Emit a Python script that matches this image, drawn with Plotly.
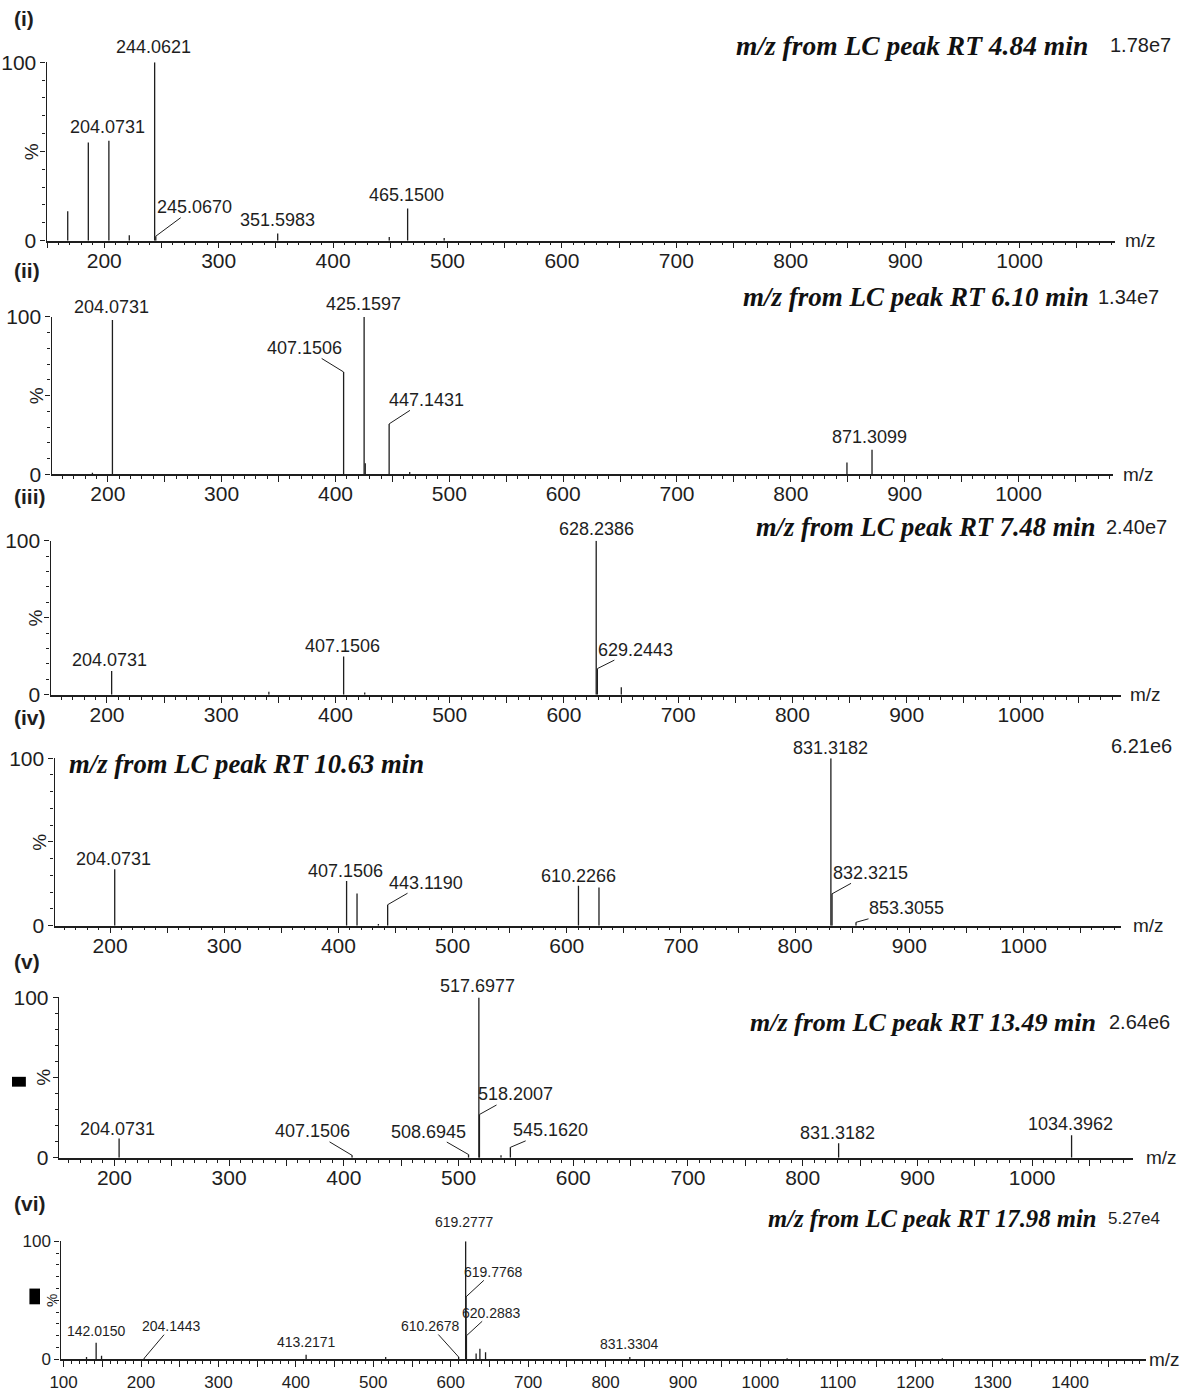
import plotly.graph_objects as go

W, H = 1182, 1393

# ---- spectra: m/z and relative intensity (%) ----
mz_i = [168.1, 186.1, 204.0731, 221.9, 244.0621, 245.0670, 351.5983, 449.1, 465.1500, 497.1]
rel_i = [16.5, 55.0, 56.0, 3.0, 100.0, 2.5, 4.0, 2.0, 18.0, 1.5]
lab_i = [204.0731, 244.0621, 245.0670, 351.5983, 465.1500]

mz_ii = [186.5, 204.0731, 407.1506, 425.1597, 426.16, 447.1431, 465.2, 849.3, 871.3099]
rel_ii = [1.0, 98.0, 65.0, 100.0, 7.0, 32.0, 1.5, 7.5, 15.5]
lab_ii = [204.0731, 407.1506, 425.1597, 447.1431, 871.3099]

mz_iii = [204.0731, 341.7, 407.1506, 425.6, 628.2386, 629.2443, 650.2]
rel_iii = [15.4, 2.0, 24.8, 1.5, 100.0, 17.0, 5.0]
lab_iii = [204.0731, 407.1506, 628.2386, 629.2443]

mz_iv = [204.0731, 407.1506, 416.3, 435.0, 443.1190, 610.2266, 628.2, 831.3182, 832.3215, 853.3055]
rel_iv = [33.7, 26.7, 19.2, 1.0, 12.5, 23.8, 22.8, 100.0, 19.0, 2.0]
lab_iv = [204.0731, 407.1506, 443.1190, 610.2266, 831.3182, 832.3215, 853.3055]

mz_v = [204.0731, 407.1506, 508.6945, 517.6977, 518.2007, 537.0, 545.1620, 831.3182, 1034.3962]
rel_v = [12.0, 1.5, 2.0, 100.0, 27.0, 1.5, 6.5, 9.0, 14.0]
lab_v = [204.0731, 407.1506, 508.6945, 517.6977, 518.2007, 545.1620, 831.3182, 1034.3962]

mz_vi = [129.6, 142.0150, 149.0, 204.1443, 413.2171, 516.0, 610.2678, 619.2777, 619.7768,
         620.2883, 632.8, 637.7, 645.0, 831.3304, 1034.5, 1235.0]
rel_vi = [2.0, 14.0, 3.0, 1.0, 4.0, 2.0, 2.0, 100.0, 53.0, 20.0, 5.0, 9.0, 6.0, 2.0, 1.0, 1.0]
lab_vi = [142.0150, 204.1443, 413.2171, 610.2678, 619.2777, 619.7768, 620.2883, 831.3304]

panel_names = ["(i)", "(ii)", "(iii)", "(iv)", "(v)", "(vi)"]
rt_min = ["4.84", "6.10", "7.48", "10.63", "13.49", "17.98"]
base_int = ["1.78e7", "1.34e7", "2.40e7", "6.21e6", "2.64e6", "5.27e4"]

spectra = [(mz_i, rel_i, lab_i), (mz_ii, rel_ii, lab_ii), (mz_iii, rel_iii, lab_iii),
           (mz_iv, rel_iv, lab_iv), (mz_v, rel_v, lab_v), (mz_vi, rel_vi, lab_vi)]

# ---- layout geometry (pixels) ----
# xl/xr: axis extent, (xp, mref, k): pixel of reference m/z and px per m/z unit
geom = [
    dict(xl=36, xr=1114, xp=94.1, mref=200, k=1.155, y100=51, y0=232.5),
    dict(xl=41, xr=1112, xp=97.7, mref=200, k=1.1491, y100=310, y0=470),
    dict(xl=40, xr=1120, xp=96.9, mref=200, k=1.1531, y100=537.5, y0=694.3),
    dict(xl=44, xr=1120, xp=100.0, mref=200, k=1.1525, y100=758.7, y0=929),
    dict(xl=48.4, xr=1133, xp=104.4, mref=200, k=1.1579, y100=1002, y0=1165),
    dict(xl=50, xr=1146, xp=53.1, mref=100, k=0.7815, y100=1250, y0=1370),
]

# label offsets from the peak top: (dx, dy, leader line)
label_style = [
    {204.0731: (-1, -14, False), 244.0621: (-1, -15, False), 245.0670: (39, -29, True),
     351.5983: (0, -14, False), 465.1500: (-1, -14, False)},
    {204.0731: (-1, -13, False), 425.1597: (-1, -13, False), 407.1506: (-39, -24, True),
     447.1431: (37, -24, True), 871.3099: (-3, -13, False)},
    {204.0731: (-2, -11, False), 407.1506: (-1, -11, False), 628.2386: (0, -12, False),
     629.2443: (38, -19, True)},
    {204.0731: (-1, -10, False), 407.1506: (-1, -10, False), 443.1190: (38, -22, True),
     610.2266: (0, -10, False), 831.3182: (0, -10, False), 832.3215: (38, -21, True),
     853.3055: (50, -14, True)},
    {204.0731: (-2, -10, False), 407.1506: (-40, -24, True), 508.6945: (-40, -23, True),
     517.6977: (-1, -11, False), 518.2007: (36, -20, True), 545.1620: (40, -17, True),
     831.3182: (-1, -10, False), 1034.3962: (-1, -11, False)},
    {142.0150: (0, -12, False), 204.1443: (27, -32, True), 413.2171: (0, -13, False),
     610.2678: (-28, -31, True), 619.2777: (-1, -19, False), 619.7768: (27, -25, True),
     620.2883: (25, -23, True), 831.3304: (0, -13, False)},
]

# text placements (pixels)
panel_label_pos = [(1, 7), (1, 263), (1, 493), (1, 717), (1, 965), (1, 1212)]
title_pos = [(1089, 34, "right"), (1090, 290, "right"), (1096, 523.7, "right"),
             (56.7, 765, "left"), (1097, 1027, "right"), (1098.6, 1227, "right")]
title_size = [27.5, 27, 26.5, 26.7, 26, 24.7]
base_pos = [(1107.7, 34), (1095, 290), (1103.6, 523.7), (1108, 746), (1106.6, 1027), (1105.6, 1227)]
mz_label_x = [1140, 1138, 1145, 1148, 1161, 1164]
pct_gap = [15, 15, 15, 15, 15, 9]
squares = [(1, 1082.7, 15, 1092.7), (18.6, 1298, 29.3, 1314)]

SANS = "Liberation Sans, Arial, sans-serif"
SERIF = "Liberation Serif, Times New Roman, serif"
INK = "#1e1e1e"


def px(x):
    return x / W


def py(y):
    return 1 - y / H


def paper_text(x, y, text, font, **kw):
    d = dict(x=px(x), y=py(y), xref="paper", yref="paper", text=text,
             showarrow=False, xanchor="center", yanchor="middle", font=font)
    d.update(kw)
    return d


fig = go.Figure()
annotations = []
shapes = []

for n, ((mz, rel, labs), g) in enumerate(zip(spectra, geom)):
    idx = n + 1
    xa = "x" if idx == 1 else f"x{idx}"
    ya = "y" if idx == 1 else f"y{idx}"
    lo = g["mref"] + (g["xl"] - g["xp"]) / g["k"]
    hi = g["mref"] + (g["xr"] - g["xp"]) / g["k"]
    small = idx == 6

    # stick spectrum
    xs, ys = [], []
    for m, r in zip(mz, rel):
        xs += [m, m, None]
        ys += [0, r, None]
    fig.add_trace(go.Scatter(x=xs, y=ys, mode="lines", xaxis=xa, yaxis=ya,
                             line=dict(color=INK, width=1.3), showlegend=False,
                             hoverinfo="skip"))

    if small:
        tv = list(range(100, 1451, 50))
    else:
        tv = list(range(150, 1051, 50))
    tt = [str(v) if v % 100 == 0 else "" for v in tv]

    fig.update_layout({
        f"xaxis{idx}": dict(
            domain=[px(g["xl"]), px(g["xr"])], range=[lo, hi], anchor=ya,
            showline=True, linecolor=INK, linewidth=1.6, showgrid=False, zeroline=False,
            ticks="outside", ticklen=6, tickwidth=1.2, tickcolor=INK,
            tickmode="array", tickvals=tv, ticktext=tt,
            ticklabelstandoff=0 if small else -6,
            tickfont=dict(family=SANS, size=17 if small else 21, color=INK),
            minor=dict(ticks="outside", ticklen=3, tickwidth=1, tickcolor=INK,
                       tickmode="linear", tick0=0, dtick=10),
            fixedrange=True,
        ),
        f"yaxis{idx}": dict(
            domain=[py(g["y0"]), py(g["y100"])], range=[0, 100], anchor=xa,
            showline=True, linecolor=INK, linewidth=1.4, showgrid=False, zeroline=False,
            ticks="outside", ticklen=5, tickwidth=1.2, tickcolor=INK,
            tickmode="array", tickvals=[0, 50, 100], ticktext=["0", "", "100"],
            tickfont=dict(family=SANS, size=17 if small else 21, color=INK),
            minor=dict(ticks="outside", ticklen=3, tickwidth=1, tickcolor=INK,
                       tickmode="linear", tick0=0, dtick=10),
            fixedrange=True,
        ),
    })

    # "%" on the intensity axis
    annotations.append(paper_text(g["xl"] - pct_gap[n], (g["y0"] + g["y100"]) / 2, "%",
                                  dict(family=SANS, size=15 if small else 19, color=INK),
                                  textangle=-90))

    # peak labels
    lookup = dict(zip(mz, rel))
    fnt = dict(family=SANS, size=14 if small else 18, color=INK)
    for m in labs:
        dx, dy, leader = label_style[n][m]
        txt = f"{m:.4f}"
        if leader:
            annotations.append(dict(x=m, y=lookup[m], xref=xa, yref=ya, text=txt,
                                    showarrow=True, ax=dx, ay=dy, arrowhead=0,
                                    arrowwidth=1, arrowcolor=INK, standoff=0,
                                    startstandoff=0, borderpad=0, font=fnt))
        else:
            annotations.append(dict(x=m, y=lookup[m], xref=xa, yref=ya, text=txt,
                                    showarrow=False, xshift=dx, yshift=-dy, font=fnt))

    # panel tag
    lx, ly = panel_label_pos[n]
    annotations.append(paper_text(lx, ly, f"<b>{panel_names[n]}</b>",
                                  dict(family=SANS, size=21, color=INK), xanchor="left"))
    # retention-time title
    tx, ty, anc = title_pos[n]
    annotations.append(paper_text(tx, ty, f"<b><i>m/z from LC peak RT {rt_min[n]} min</i></b>",
                                  dict(family=SERIF, size=title_size[n], color="#111"),
                                  xanchor=anc))
    # base peak intensity
    bx, by = base_pos[n]
    annotations.append(paper_text(bx, by, base_int[n],
                                  dict(family=SANS, size=17 if small else 20, color=INK),
                                  xanchor="left"))
    # axis unit at the end of the m/z axis
    annotations.append(paper_text(mz_label_x[n], g["y0"], "m/z",
                                  dict(family=SANS, size=19, color=INK)))

for (x0, y0, x1, y1) in squares:
    shapes.append(dict(type="rect", xref="paper", yref="paper",
                       x0=px(x0), x1=px(x1), y0=py(y1), y1=py(y0),
                       fillcolor="#000", line=dict(width=0)))

fig.update_layout(
    width=W, height=H, margin=dict(l=0, r=0, t=0, b=0),
    paper_bgcolor="white", plot_bgcolor="white",
    annotations=annotations, shapes=shapes, showlegend=False, hovermode=False,
)

fig.write_html("out.html", config={"displayModeBar": False})
